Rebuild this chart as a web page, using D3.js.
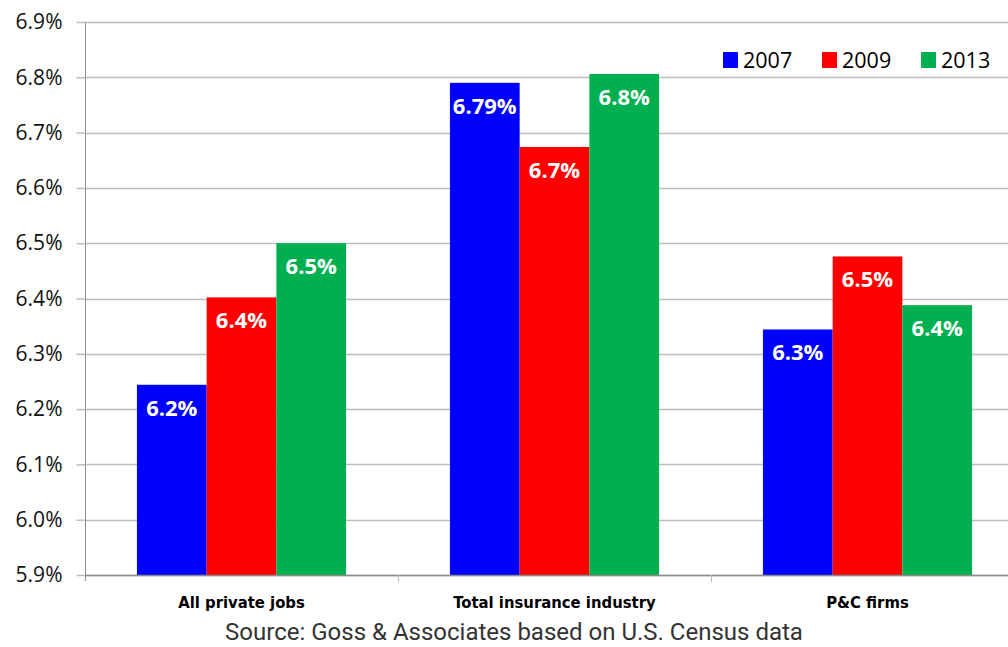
<!DOCTYPE html>
<html>
<head>
<meta charset="utf-8">
<script src="https://cdn.jsdelivr.net/npm/d3@7"></script>
<style>
  html, body { margin: 0; padding: 0; background: #fff; }
  svg { display: block; overflow: hidden; }
</style>
</head>
<body>
<svg id="chart" width="1008" height="647"></svg>
<script>
// Share of jobs, by sector and year (percent)
const categories = ["All private jobs", "Total insurance industry", "P&C firms"];
const years = ["2007", "2009", "2013"];
const values2007 = [6.244, 6.79, 6.344];
const values2009 = [6.402, 6.674, 6.476];
const values2013 = [6.50, 6.806, 6.388];
// decimals shown in each data label
const labelDigits2007 = [1, 2, 1];
const labelDigits2009 = [1, 1, 1];
const labelDigits2013 = [1, 1, 1];
const yTicks = [5.9, 6.0, 6.1, 6.2, 6.3, 6.4, 6.5, 6.6, 6.7, 6.8, 6.9];
const colors = ["#0000ff", "#ff0000", "#00b050"];
const sourceText = "Source: Goss & Associates based on U.S. Census data";

const seriesValues = [values2007, values2009, values2013];
const seriesDigits = [labelDigits2007, labelDigits2009, labelDigits2013];

const svg = d3.select("#chart");
const plotLeft = 85, plotRight = 1024, plotTop = 22, plotBottom = 575;

const y = d3.scaleLinear().domain([5.9, 6.9]).range([plotBottom, plotTop]);
const x0 = d3.scaleBand().domain(categories).range([plotLeft, plotRight]).padding(0);
const x1 = d3.scaleBand().domain(years).range([0, x0.bandwidth()])
  .paddingInner(0).paddingOuter(0.745);

// horizontal gridlines
svg.append("g")
  .selectAll("line")
  .data(yTicks)
  .join("line")
  .attr("x1", plotLeft).attr("x2", plotRight)
  .attr("y1", d => Math.round(y(d)) + 0.5).attr("y2", d => Math.round(y(d)) + 0.5)
  .attr("stroke", "#bdbdbd").attr("stroke-width", 1.5);

// y axis
const yAxis = d3.axisLeft(y).tickValues(yTicks).tickSize(9).tickPadding(14)
  .tickFormat(d => d3.format(".1f")(d) + "%");
const gy = svg.append("g").attr("transform", `translate(${plotLeft + 0.5},0)`).call(yAxis);
gy.select(".domain").attr("stroke", "#8c8c8c").attr("d", `M0,${plotTop}V${plotBottom + 6}`);
gy.selectAll(".tick line").attr("stroke", "#bdbdbd").attr("stroke-width", 1.5);
gy.selectAll(".tick text")
  .attr("fill", "#111")
  .style("font-family", "'Open Sans', 'Noto Sans', sans-serif")
  .style("font-size", "21px");

// bars
const groups = svg.append("g")
  .selectAll("g")
  .data(categories.map((c, i) => ({ c, i })))
  .join("g")
  .attr("transform", d => `translate(${x0(d.c)},0)`);

const cells = d => years.map((yr, s) => ({ yr, s, v: seriesValues[s][d.i], dg: seriesDigits[s][d.i] }));

groups.selectAll("rect")
  .data(cells)
  .join("rect")
  .attr("x", d => x1(d.yr))
  .attr("width", x1.bandwidth())
  .attr("y", d => y(d.v))
  .attr("height", d => plotBottom - y(d.v))
  .attr("fill", d => colors[d.s]);

groups.selectAll("text")
  .data(cells)
  .join("text")
  .attr("x", d => x1(d.yr) + x1.bandwidth() / 2)
  .attr("y", d => y(d.v) + 31)
  .attr("text-anchor", "middle")
  .attr("fill", "#fff")
  .style("font-family", "'Open Sans', sans-serif")
  .style("font-weight", "bold")
  .style("font-size", "22px")
  .text(d => d.v.toFixed(d.dg) + "%");

// x axis
const xAxis = d3.axisBottom(x0).tickSize(0).tickPadding(21);
const gx = svg.append("g").attr("transform", `translate(0,${plotBottom + 0.5})`).call(xAxis);
gx.select(".domain").attr("stroke", "#8c8c8c").attr("stroke-width", 1.5).attr("d", `M${plotLeft},0H${plotRight}`);
gx.selectAll(".tick text")
  .attr("fill", "#000")
  .style("font-family", "'DejaVu Sans Condensed', 'Liberation Sans Narrow', sans-serif")
  .style("font-weight", "bold")
  .style("font-size", "16.5px");
// category boundary ticks
svg.append("g")
  .selectAll("line")
  .data(categories.slice(1))
  .join("line")
  .attr("x1", d => Math.round(x0(d)) + 0.5).attr("x2", d => Math.round(x0(d)) + 0.5)
  .attr("y1", plotBottom).attr("y2", plotBottom + 7)
  .attr("stroke", "#bdbdbd").attr("stroke-width", 1);

// legend
const legend = svg.append("g").attr("transform", "translate(723,52)");
const li = legend.selectAll("g").data(years).join("g")
  .attr("transform", (d, i) => `translate(${i * 99},0)`);
li.append("rect").attr("width", 15).attr("height", 16).attr("fill", (d, i) => colors[i]);
li.append("text").attr("x", 20).attr("y", 16)
  .attr("fill", "#000")
  .style("font-family", "'Open Sans', 'Noto Sans', sans-serif")
  .style("font-size", "21.5px")
  .text(d => d);

// source note
svg.append("text")
  .attr("x", 514).attr("y", 640)
  .attr("text-anchor", "middle")
  .attr("fill", "#333")
  .style("font-family", "Roboto, sans-serif")
  .style("font-size", "24px")
  .text(sourceText);
</script>
</body>
</html>
